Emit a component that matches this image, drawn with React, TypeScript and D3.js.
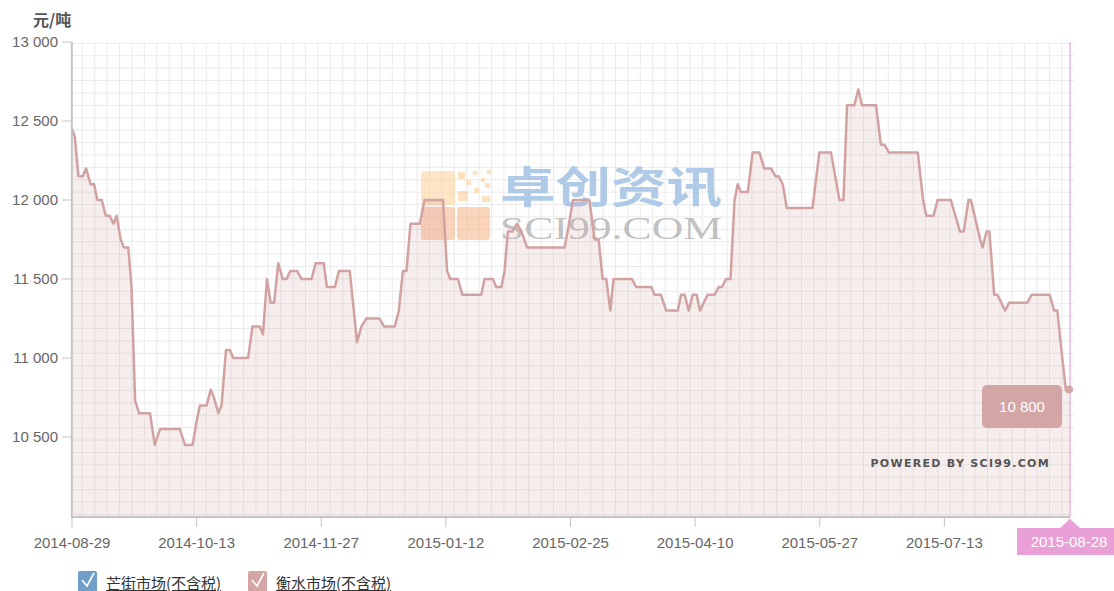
import React from "react";
import * as d3 from "d3";

const xLabels = ["2014-08-29","2014-10-13","2014-11-27","2015-01-12","2015-02-25","2015-04-10","2015-05-27","2015-07-13","2015-08-28"];
const tickIndex = [0, 31, 62, 93, 124, 155, 186, 217, 248];
const yTicks = [10500, 11000, 11500, 12000, 12500, 13000];
const legendNames = ["芒街市场(不含税)", "衡水市场(不含税)"];
const legendColors = ["#6f9fc8", "#d4a5a5"];

const dayIndex = [
  0, 0.7, 1.6, 2.7, 3.5, 4.6, 5.5, 6.3, 7.4, 8.4, 9.4, 10.3, 11.1, 12.1, 12.9, 14.0, 14.8, 15.7, 16.7, 19.4,
  20.6, 21.9, 26.8, 28.1, 30.0, 31.0, 31.8, 33.5, 34.5, 35.3, 36.4, 37.2, 38.3, 39.3, 40.1, 43.8, 44.9, 46.7, 47.5, 48.5,
  49.4, 50.3, 51.3, 52.4, 53.4, 54.3, 56.0, 57.1, 59.6, 60.6, 62.6, 63.4, 65.4, 66.4, 69.1, 70.9, 72.0, 73.2, 76.5, 77.6,
  80.3, 81.3, 82.3, 83.2, 84.2, 86.5, 87.7, 92.3, 93.3, 94.1, 96.0, 97.1, 101.8, 102.6, 104.7, 105.5, 106.8, 107.6, 108.4, 109.5,
  110.7, 111.8, 113.2, 122.5, 123.3, 124.6, 128.7, 130.0, 131.0, 132.0, 132.9, 133.9, 134.7, 139.3, 140.3, 144.1, 144.9, 146.5, 147.8, 150.7,
  151.5, 152.4, 153.4, 154.4, 155.4, 156.2, 158.1, 159.8, 160.9, 161.7, 162.7, 163.8, 164.8, 165.6, 166.4, 168.1, 169.3, 171.0, 172.2, 173.9,
  175.0, 175.8, 176.8, 177.8, 184.2, 185.9, 188.8, 190.9, 191.9, 192.8, 194.6, 195.6, 196.5, 200.0, 201.2, 202.1, 203.2, 210.4, 211.7, 212.5,
  214.3, 215.3, 218.6, 220.9, 221.8, 223.0, 223.6, 225.9, 226.5, 227.5, 228.2, 229.4, 230.2, 232.1, 233.1, 237.6, 238.7, 243.2, 244.3, 245.1,
  245.9, 247.2, 248
];
const price = [
  12450, 12400, 12150, 12150, 12200, 12100, 12100, 12000, 12000, 11900, 11900, 11850, 11900, 11750, 11700, 11700, 11450, 10730, 10650, 10650,
  10450, 10550, 10550, 10450, 10450, 10600, 10700, 10700, 10800, 10750, 10650, 10700, 11050, 11050, 11000, 11000, 11200, 11200, 11150, 11500,
  11350, 11350, 11600, 11500, 11500, 11550, 11550, 11500, 11500, 11600, 11600, 11450, 11450, 11550, 11550, 11100, 11200, 11250, 11250, 11200,
  11200, 11300, 11550, 11550, 11850, 11850, 12000, 12000, 11550, 11500, 11500, 11400, 11400, 11500, 11500, 11450, 11450, 11550, 11800, 11800,
  11850, 11800, 11700, 11700, 11800, 12000, 12000, 11750, 11750, 11500, 11500, 11300, 11500, 11500, 11450, 11450, 11400, 11400, 11300, 11300,
  11400, 11400, 11300, 11400, 11400, 11300, 11400, 11400, 11450, 11450, 11500, 11500, 12000, 12100, 12050, 12050, 12300, 12300, 12200, 12200,
  12150, 12150, 12100, 11950, 11950, 12300, 12300, 12000, 12000, 12600, 12600, 12700, 12600, 12600, 12350, 12350, 12300, 12300, 12000, 11900,
  11900, 12000, 12000, 11800, 11800, 12000, 12000, 11750, 11700, 11800, 11800, 11400, 11400, 11300, 11350, 11350, 11400, 11400, 11300, 11300,
  11100, 10800, 10800
];

const W = 1114, H = 591;
const left = 72, right = 1069, top = 42, bottom = 516;
const gridRight = 1074, gridBottom = 517;

export default function App() {
  const x = d3.scaleLinear().domain([0, 248]).range([left, right]);
  const y = d3.scaleLinear().domain([10000, 13000]).range([bottom, top]);
  const pts: [number, number][] = dayIndex.map((d, i) => [d, price[i]]);
  const line = d3.line<[number, number]>().x(d => x(d[0])).y(d => y(d[1]));
  const area = d3.area<[number, number]>().x(d => x(d[0])).y0(bottom).y1(d => y(d[1]));

  const gridStep = 12.4;
  const vGrid = d3.range(82.3, gridRight, gridStep);
  const hGrid = d3.range(43.3, gridBottom, gridStep);

  const last = pts[pts.length - 1];
  const lx = x(last[0]), ly = y(last[1]);
  const fmt = (v: number) => d3.format(",")(v).replace(/,/g, " ");

  const tileSquares = [
    [458, 172, 7, 7], [473, 171, 4, 4], [487, 170, 4, 4], [466, 180, 5, 5], [481, 178, 4, 4],
    [458, 191, 10, 10], [474, 188, 5, 5], [485, 183, 5, 5], [482, 196, 8, 6]
  ];

  return (
    <svg width={W} height={H} style={{ position: "absolute", left: 0, top: 0, background: "#fff" }}
      fontFamily="'Liberation Sans', Arial, sans-serif">
      {/* grid background */}
      <rect x={left} y={top} width={gridRight - left} height={gridBottom - top} fill="#fff" />
      <g stroke="#ebebeb" strokeWidth={1}>
        {vGrid.map((gx, i) => <line key={"v" + i} x1={gx} x2={gx} y1={top} y2={gridBottom} />)}
        {hGrid.map((gy, i) => <line key={"h" + i} x1={left} x2={gridRight} y1={gy} y2={gy} />)}
      </g>

      {/* watermark */}
      <g opacity={0.6}>
        <rect x={421} y={171} width={34} height={34} rx={3} fill="#fcd5a0" />
        <rect x={421} y={207} width={34} height={33} rx={3} fill="#f7b98f" />
        <rect x={457} y={207} width={33} height={33} rx={3} fill="#f7b98f" />
        {tileSquares.map((s, i) => <rect key={i} x={s[0]} y={s[1]} width={s[2]} height={s[3]} fill="#fcd09a" />)}
      </g>
      <text x={500} y={203} fontSize={43} fontWeight="bold" fill="#a3c2e4" opacity={0.85}
        fontFamily="'Noto Sans CJK SC', sans-serif" textLength={222} lengthAdjust="spacingAndGlyphs">卓创资讯</text>
      <text x={500} y={239} fontSize={32} fill="#b8b8b8" opacity={0.85}
        fontFamily="'Liberation Serif', 'DejaVu Serif', serif" textLength={222} lengthAdjust="spacingAndGlyphs">SCI99.COM</text>

      {/* area + line */}
      <path d={area(pts) || ""} fill="#d4a5a5" fillOpacity={0.2} />
      <path d={line(pts) || ""} fill="none" stroke="#d2a2a2" strokeWidth={2.5} strokeLinejoin="round" />

      {/* axes */}
      <line x1={71.8} x2={71.8} y1={top} y2={gridBottom + 1} stroke="#c4c4c4" strokeWidth={2} />
      <line x1={left} x2={right + 1} y1={gridBottom} y2={gridBottom} stroke="#c4c4c4" strokeWidth={2} />
      {yTicks.map(t => (
        <g key={t}>
          <line x1={62} x2={71} y1={y(t)} y2={y(t)} stroke="#c4c4c4" strokeWidth={1} />
          <text x={58} y={y(t) + 5} textAnchor="end" fontSize={15} fill="#666">{fmt(t)}</text>
        </g>
      ))}
      <text x={33} y={26} fontSize={16} fontWeight="bold" fill="#555"
        fontFamily="'Noto Sans CJK SC', sans-serif">元/吨</text>
      {tickIndex.map((ti, i) => (
        <g key={ti}>
          <line x1={x(ti)} x2={x(ti)} y1={gridBottom} y2={527} stroke="#c4c4c4" strokeWidth={1} />
          {i < xLabels.length - 1 && (
            <text x={x(ti)} y={548} textAnchor="middle" fontSize={15} fill="#666">{xLabels[i]}</text>
          )}
        </g>
      ))}

      {/* powered by */}
      <text x={1050} y={467} textAnchor="end" fontSize={11} fontWeight="bold" fill="#555"
        fontFamily="'DejaVu Sans', sans-serif" letterSpacing={1.3}>POWERED BY SCI99.COM</text>

      {/* crosshair */}
      <line x1={lx + 1} x2={lx + 1} y1={top} y2={gridBottom} stroke="#e58fd6" strokeWidth={1} />
      <path d={`M${lx - 9},528 L${lx + 1},519 L${lx + 11},528 Z`} fill="#e9a0d6" />
      <rect x={1017} y={528} width={100} height={27} fill="#e9a0d6" />
      <text x={1069} y={547} textAnchor="middle" fontSize={15} fill="#fff">{xLabels[xLabels.length - 1]}</text>

      {/* marker + tooltip */}
      <circle cx={lx} cy={ly} r={4} fill="#d4a5a5" />
      <rect x={982} y={385} width={80} height={43} rx={5} fill="#d4a5a5" />
      <text x={1022} y={412} textAnchor="middle" fontSize={15} fill="#fff">{fmt(last[1])}</text>

      {/* legend */}
      {legendNames.map((n, i) => {
        const bx = i === 0 ? 78 : 248;
        return (
          <g key={n}>
            <rect x={bx} y={571} width={19} height={22} rx={2} fill={legendColors[i]} />
            <path d={`M${bx + 4},580 L${bx + 9},586 L${bx + 16},573`} fill="none" stroke="#fff" strokeWidth={1.6} />
            <text x={bx + 28} y={589} fontSize={15} fill="#333" textDecoration="underline"
              fontFamily="'Noto Sans CJK SC', sans-serif">{n}</text>
          </g>
        );
      })}
    </svg>
  );
}
